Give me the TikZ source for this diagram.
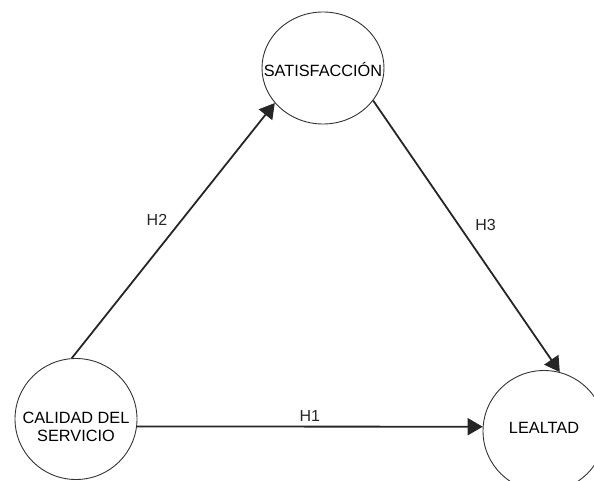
\documentclass[tikz,border=0pt]{standalone}
\usepackage{fontspec}
\setmainfont{Liberation Sans}
\usepackage{tikz}
\usetikzlibrary{shapes.geometric,arrows.meta,positioning}
% text of a construct, kept from widening the ellipse
\newcommand{\cname}[2][0pt]{\makebox[0pt]{\raisebox{#1}[0pt][0pt]{\begin{tabular}{@{}c@{}}#2\end{tabular}}}}
\tikzset{x=1pt, y=-1pt,     % One unit per pixel of the original, y going down
         construct/.style={ % Sets the properties for each construct
           draw=black!80,
           line width=0.9pt,
           ellipse,
           inner sep=0pt,
           minimum width=122pt,
           minimum height=121pt,
           font=\fontsize{16.3}{18.7}\selectfont},
         hyp/.style={       % Sets the properties for each hypothesis
           draw=black!85,
           line width=1.8pt,
           -{Triangle[length=15pt,width=17pt]}},
         hlabel/.style={
           font=\fontsize{16}{18}\selectfont,
           text=black!85}}

\begin{document}
\begin{tikzpicture}
\useasboundingbox (0,0) rectangle (594,481);

\node[construct, minimum height=112pt] (sat) at (323,68) {\cname[-8.7pt]{SATISFACCI\'ON}};
\node[construct] (cal) at (76,419) {\cname[-14pt]{CALIDAD DEL\\SERVICIO}};
\node[construct] (leal) at (544,431) {\cname[-2.7pt]{LEALTAD}};

\draw[hyp] (cal.-7.5) -- node[hlabel, above=1pt] (h1) {H1} (leal.176);
\draw[hyp] (cal.94) -- node[hlabel, pos=0.54, left=10pt] (h2) {H2} (sat.216);
\draw[hyp] (sat.327) -- node[hlabel, pos=0.46, right=12pt] (h3) {H3} (leal.75);

\end{tikzpicture}
\end{document}
